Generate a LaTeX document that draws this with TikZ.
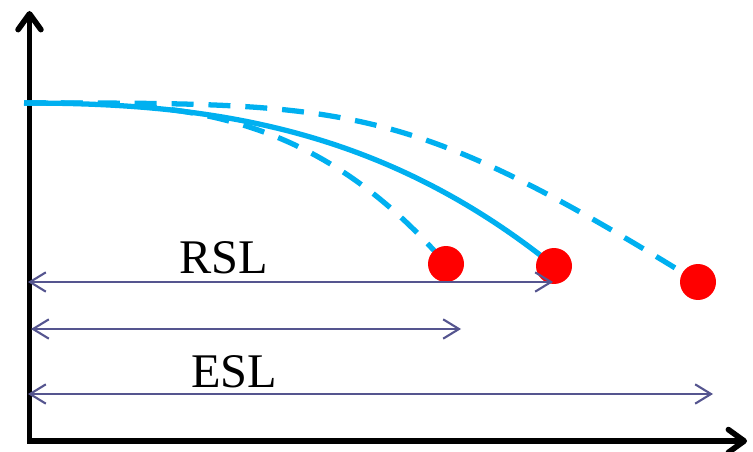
\documentclass[tikz,border=0pt]{standalone}
\usepackage{fontspec}
\setmainfont{Liberation Serif}
\usetikzlibrary{arrows.meta}
\definecolor{sky}{HTML}{00B0F0}
\definecolor{slate}{HTML}{55558F}
\definecolor{ballred}{HTML}{FF0000}
\tikzset{
  axisline/.style={line width=3.2pt, line join=miter,
    {Straight Barb[length=9pt,width=13pt,round]}-{Straight Barb[length=9pt,width=13pt,round]}},
  flightpath/.style={sky, line width=3pt},
  flightdash/.style={flightpath, dash pattern=on 12.5pt off 8.5pt},
  rangearrow/.style={slate, line width=1.2pt,
    {Straight Barb[length=9pt,width=11pt]}-{Straight Barb[length=9pt,width=11pt]}},
  ball/.style={circle, fill=ballred, minimum size=0.72cm, inner sep=0pt},
  rangelabel/.style={anchor=base, inner sep=0pt, font=\fontsize{27.5}{30}\selectfont},
}
\begin{document}
\begin{tikzpicture}[x=0.02cm, y=-0.02cm]
\useasboundingbox (0,0) rectangle (753,452);
% axes
\coordinate (ytip) at (29.5,11);
\coordinate (corner) at (29.5,441);
\coordinate (xtip) at (747,441);
\draw[axisline] (ytip) -- (corner) -- (xtip);
% launch point and landing points
\coordinate (launch) at (24,103);
\coordinate (hitA) at (446,264);
\coordinate (hitB) at (554,266);
\coordinate (hitC) at (698,282);
\draw[flightdash] (launch) .. controls (167,103) and (307,103) .. (hitA);
\draw[flightpath] (launch) .. controls (201,103) and (378,124) .. (hitB);
\draw[flightdash] (launch) .. controls (350,103) and (405,101) .. (hitC);
\node[ball] (dotA) at (hitA) {};
\node[ball] (dotB) at (hitB) {};
\node[ball] (dotC) at (hitC) {};
% ranges
\coordinate (rslL) at (28,282);
\coordinate (rslR) at (553,282);
\coordinate (midL) at (31,329);
\coordinate (midR) at (461,329);
\coordinate (eslL) at (28,394);
\coordinate (eslR) at (713,394);
\draw[rangearrow] (rslL) -- (rslR);
\draw[rangearrow] (midL) -- (midR);
\draw[rangearrow] (eslL) -- (eslR);
\node[rangelabel] (rsl) at (223.5,274) {RSL};
\node[rangelabel] (esl) at (234,387) {ESL};
\end{tikzpicture}
\end{document}
